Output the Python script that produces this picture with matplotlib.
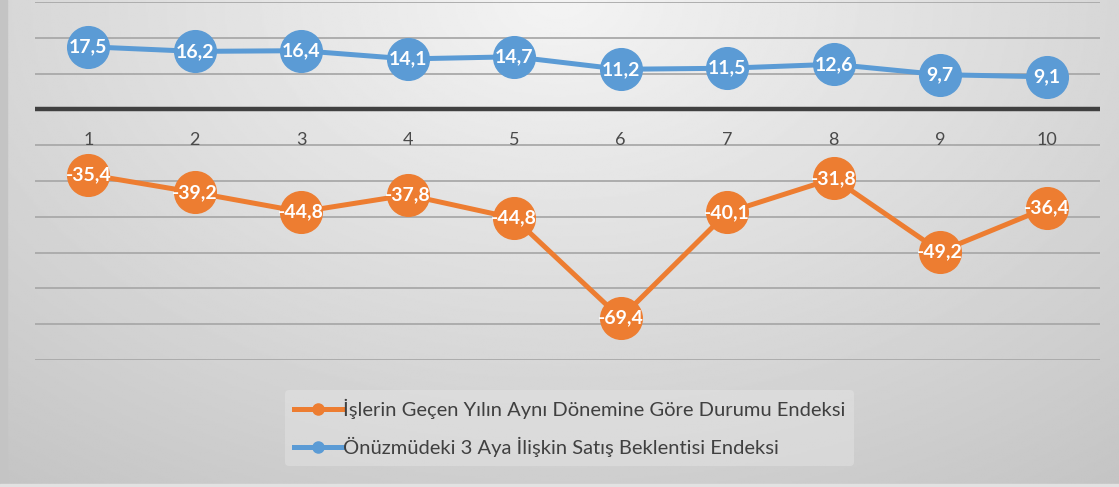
import numpy as np
import matplotlib
matplotlib.use("Agg")
import matplotlib.pyplot as plt
from matplotlib.lines import Line2D
from matplotlib.patches import Rectangle

plt.rcParams['font.family'] = ['Lato', 'DejaVu Sans']

# veri
kategoriler = ['1', '2', '3', '4', '5', '6', '7', '8', '9', '10']
satis_beklentisi = [17.5, 16.2, 16.4, 14.1, 14.7, 11.2, 11.5, 12.6, 9.7, 9.1]
# turuncu seri grafikte etiketlerinden farkli konumlarda cizilmis
isler_konum = [-18.2, -23.2, -28.6, -23.9, -30.4, -58.3, -28.8, -19.3, -39.7, -27.5]
isler_etiket = ['-35,4', '-39,2', '-44,8', '-37,8', '-44,8', '-69,4', '-40,1', '-31,8', '-49,2', '-36,4']
seri_adlari = ['İşlerin Geçen Yılın Aynı Dönemine Göre Durumu Endeksi',
               'Önüzmüdeki 3 Aya İlişkin Satış Beklentisi Endeksi']

turuncu = '#ED7D31'
mavi = '#5B9BD5'

fig = plt.figure(figsize=(11.19, 4.87), dpi=100)

# arka plan gradyani
bg = fig.add_axes([0, 0, 1, 1], zorder=-10)
bg.axis('off')
yy, xx = np.mgrid[0:1:300j, 0:1:600j]
d = np.sqrt(((xx - 0.5) / 0.75) ** 2 + (yy / 1.15) ** 2)
bg.imshow(np.clip(0.955 - 0.17 * d, 0, 1), cmap='gray', vmin=0, vmax=1,
          aspect='auto', extent=[0, 1, 0, 1], origin='upper')
bg.set_xlim(0, 1)
bg.set_ylim(0, 1)
fig.patches.append(Rectangle((0, 0), 0.006, 1, transform=fig.transFigure,
                             color='#c4c4c4', zorder=-5))
fig.patches.append(Rectangle((0, 0), 1, 0.006, transform=fig.transFigure,
                             color='#e2e2e2', zorder=-5))

ax = fig.add_axes([0.0313, 0.2608, 0.9517, 0.7351])
ax.set_facecolor('none')
x = np.arange(len(kategoriler))
ax.set_xlim(-0.5, len(kategoriler) - 0.5)
ax.set_ylim(-70, 30)
ax.set_yticks(np.arange(-70, 31, 10))
ax.yaxis.grid(True, color='#a9a9a9', lw=1.3)
ax.set_axisbelow(True)
ax.tick_params(left=False, bottom=False, labelleft=False, labelbottom=False)
for s in ax.spines.values():
    s.set_visible(False)
ax.axhline(0, color='#404040', lw=3.2, zorder=2)

for i, k in enumerate(kategoriler):
    ax.annotate(k, (x[i], 0), xytext=(0, -22), textcoords='offset points',
                ha='center', va='center', fontsize=13, color='#4a4a4a')

ax.plot(x, isler_konum, color=turuncu, lw=3.6, marker='o', ms=30,
        mec=turuncu, zorder=3)
ax.plot(x, satis_beklentisi, color=mavi, lw=3.6, marker='o', ms=30,
        mec=mavi, zorder=3)

for i in range(len(x)):
    ax.text(x[i], isler_konum[i], isler_etiket[i], ha='center', va='center',
            fontsize=14, fontweight='bold', color='white', zorder=4)
    ax.text(x[i], satis_beklentisi[i], f'{satis_beklentisi[i]:.1f}'.replace('.', ','),
            ha='center', va='center', fontsize=14, fontweight='bold',
            color='white', zorder=4)

handles = [Line2D([], [], color=turuncu, lw=3.6, marker='o', ms=8),
           Line2D([], [], color=mavi, lw=3.6, marker='o', ms=8)]
leg = fig.legend(handles, seri_adlari, loc='center', bbox_to_anchor=(0.509, 0.121),
                 frameon=True, fontsize=14.5, handlelength=2.4, handletextpad=0.05,
                 labelspacing=0.9, borderpad=0.45, labelcolor='#404040')
leg.get_frame().set_facecolor('#e6e6e6')
leg.get_frame().set_edgecolor('none')
leg.get_frame().set_alpha(0.45)

fig.savefig('out.png', dpi=100)
